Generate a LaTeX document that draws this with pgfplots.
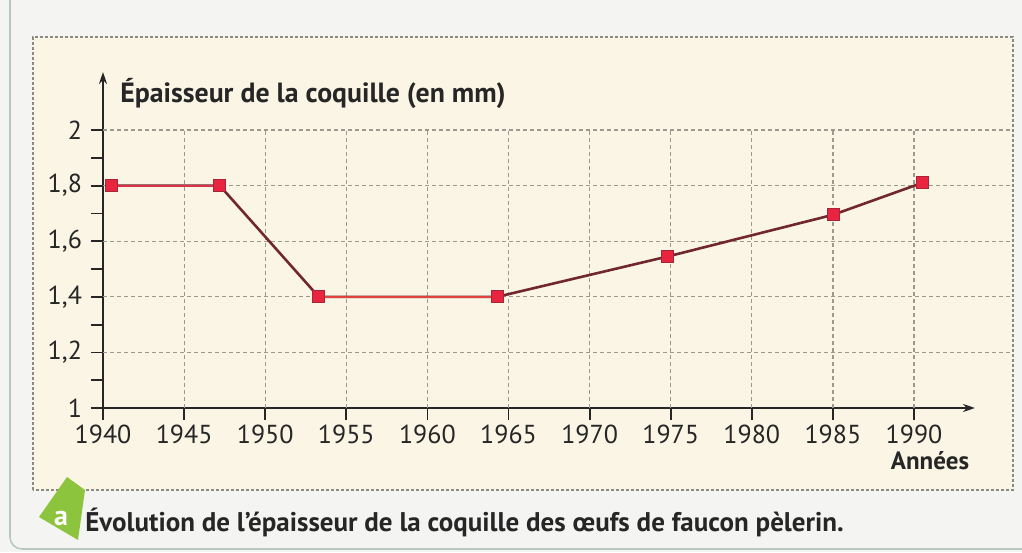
\documentclass[border=0pt]{standalone}
\usepackage{fontspec}
\setmainfont{PT Sans}
\usepackage{pgfplots}
\pgfplotsset{compat=1.18}
\usetikzlibrary{arrows.meta}
\definecolor{outer}{HTML}{F4F5F2}
\definecolor{paper}{HTML}{FBF5E5}
\definecolor{edge}{HTML}{B8C8C0}
\definecolor{framec}{HTML}{8A8A80}
\definecolor{gridc}{HTML}{9A9A90}
\definecolor{lred}{HTML}{D8344A}
\definecolor{ldark}{HTML}{70282E}
\definecolor{mfill}{HTML}{E8243F}
\definecolor{mdraw}{HTML}{A82438}
\definecolor{badge}{HTML}{8CC43E}
\begin{document}
\begin{tikzpicture}[x=1pt,y=1pt]
\fill[outer] (0,0) rectangle (511,276);
\useasboundingbox (0,0) rectangle (511,276);
\draw[edge, line width=0.8pt, rounded corners=6pt] (5,290) -- (5,1.5) -- (520,1.5);
\fill[paper] (16.5,31) rectangle (506.5,257.5);
\draw[framec, line width=0.7pt, dash pattern=on 1.5pt off 1pt] (16.5,31) rectangle (506.5,257.5);
\begin{axis}[
  at={(51.5pt,72pt)}, anchor=south west,
  scale only axis, width=436pt, height=168pt,
  xmin=1940, xmax=1993.76, ymin=1, ymax=2.209,
  clip=false,
  axis lines=left,
  axis line style={line width=1pt, black!85, -{Stealth[length=6pt,width=4pt]}},
  xtick={1940,1945,1950,1955,1960,1965,1970,1975,1980,1985,1990},
  ytick={1,1.2,1.4,1.6,1.8,2},
  minor ytick={1.1,1.3,1.5,1.7,1.9},
  tick align=outside,
  major tick length=6pt, minor tick length=6pt,
  every tick/.style={line width=0.9pt, black!85},
  /pgf/number format/assume math mode=true,
  xticklabel style={/pgf/number format/1000 sep=, yshift=1pt},
  yticklabel style={/pgf/number format/use comma, /pgf/number format/precision=1, xshift=-1pt},
  ticklabel style={font=\fontsize{13}{13}\selectfont, text=black!85},
]
\pgfplotsinvokeforeach{1.2,1.4,1.6,1.8,2}{
  \draw[gridc, line width=0.6pt, dash pattern=on 2pt off 1.5pt] (axis cs:1940,#1) -- (axis cs:1996.05,#1);
}
\pgfplotsinvokeforeach{1945,1950,1955,1960,1965,1970,1975,1980,1985,1990}{
  \draw[gridc, line width=0.6pt, dash pattern=on 2pt off 1.5pt] (axis cs:#1,1) -- (axis cs:#1,2);
}
\addplot[ldark, line width=1.3pt, no marks] coordinates {
  (1940.5,1.8) (1947.2,1.8) (1953.3,1.4) (1964.3,1.4) (1974.8,1.545) (1985,1.695) (1990.5,1.81)};
\addplot[lred, line width=1.1pt, no marks] coordinates {(1940.5,1.8) (1947.2,1.8)};
\addplot[lred!80!orange, line width=1.1pt, no marks] coordinates {(1953.3,1.4) (1964.3,1.4)};
\addplot[only marks, mark=square*, mark size=3pt, mark options={fill=mfill, draw=mdraw, line width=0.4pt}] coordinates {
  (1940.5,1.8) (1947.2,1.8) (1953.3,1.4) (1964.3,1.4) (1974.8,1.545) (1985,1.695) (1990.5,1.81)};
\end{axis}
\node[anchor=base west, inner sep=0pt, text=black!85] at (60,224.5) {\fontsize{13.9}{15}\selectfont\bfseries Épaisseur de la coquille (en mm)};
\node[anchor=base, inner sep=0pt, text=black!85] at (465,41.5) {\fontsize{12.5}{13}\selectfont\bfseries Années};
\fill[badge] (33.5,37.5) -- (42.5,31) -- (39,6) -- (19.5,17.5) -- cycle;
\node[text=white, inner sep=0pt] at (30.5,17) {\fontsize{14}{14}\selectfont\bfseries a};
\node[anchor=base west, inner sep=0pt, text=black!85] at (42.5,10.5) {\fontsize{13.5}{14}\selectfont\bfseries Évolution de l’épaisseur de la coquille des œufs de faucon pèlerin.};
\end{tikzpicture}
\end{document}
